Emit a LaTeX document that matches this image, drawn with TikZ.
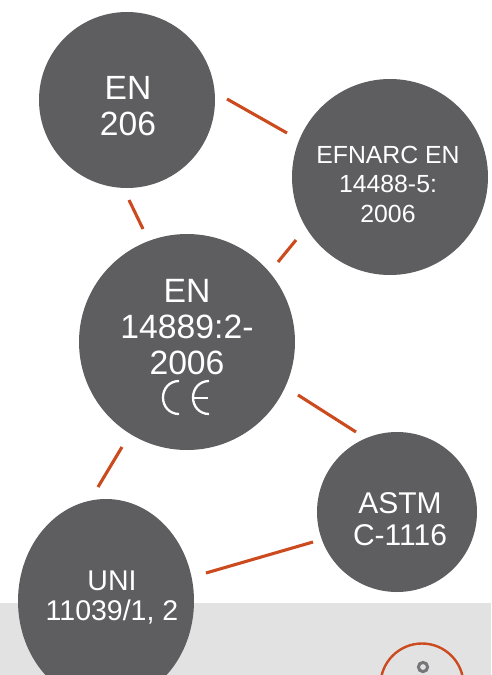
\documentclass[tikz,border=0pt]{standalone}
\usepackage{fontspec}
\usetikzlibrary{shapes.geometric}
\setmainfont{Liberation Sans}
\definecolor{disc}{HTML}{5E5D5F}
\definecolor{band}{HTML}{E2E2E2}
\definecolor{rust}{HTML}{CB4A1E}
\tikzset{
  disc/.style={circle,fill=disc,draw=none,inner sep=0pt,minimum size=#1},
  lab/.style={text=white,align=center,inner sep=0pt,anchor=base},
  link/.style={draw=rust,line width=3.1pt},
  cemark/.style={draw=white,line width=2.3pt},
}
\begin{document}
\begin{tikzpicture}[x=1pt,y=-1pt]
\useasboundingbox (0,0) rectangle (491,675);
\fill[band] (0,603) rectangle (491,675);
\begin{scope}
\clip (0,0) rectangle (491,675);
\node[circle,draw=rust,line width=2.4pt,minimum size=83pt,inner sep=0pt] (ring) at (422,685) {};
\draw[disc!85!white,line width=3pt] (423,667) circle (4.6pt);
\node[ellipse,fill=disc,draw=none,inner sep=0pt,minimum width=176pt,minimum height=204pt] (uni) at (106,601) {};
\node[disc=196pt] (ef) at (390,177) {};
\end{scope}
\node[disc=176pt] (en) at (127,100) {};
\node[disc=216pt] (main) at (187,342) {};
\node[disc=160pt] (astm) at (397,512) {};
\node[lab,font=\fontsize{33.6}{36}\selectfont] (t1) at (128,135) {EN\\206};
\node[lab,font=\fontsize{24.8}{29.5}\selectfont] (t2) at (388,222) {EFNARC EN\\14488-5:\\2006};
\node[lab,font=\fontsize{33.7}{36}\selectfont] (t3) at (187,374) {EN\\14889:2-\\2006};
\node[lab,font=\fontsize{30}{32}\selectfont] (t4) at (400,545) {ASTM\\C-1116};
\node[lab,font=\fontsize{28.5}{30}\selectfont] (t5) at (112,620) {UNI\\11039/1, 2};
% CE mark
\draw[cemark] (179,381) .. controls (169.6,381) and (163,388.4) .. (163,397.5) .. controls (163,406.6) and (169.6,414) .. (179,414);
\draw[cemark] (209,381) .. controls (199.6,381) and (193,388.4) .. (193,397.5) .. controls (193,406.6) and (199.6,414) .. (209,414);
\draw[cemark,line width=2pt] (193,397.5) -- (208,397.5);
% connectors
\coordinate (a1) at (227,99); \coordinate (a2) at (287,133);
\coordinate (b1) at (129,200); \coordinate (b2) at (143,229);
\coordinate (c1) at (296,240); \coordinate (c2) at (278,262);
\coordinate (d1) at (298,395); \coordinate (d2) at (356,432);
\coordinate (e1) at (122,447); \coordinate (e2) at (98,487);
\coordinate (f1) at (206,573); \coordinate (f2) at (313,542);
\draw[link] (a1) -- (a2);
\draw[link] (b1) -- (b2);
\draw[link] (c1) -- (c2);
\draw[link] (d1) -- (d2);
\draw[link] (e1) -- (e2);
\draw[link] (f1) -- (f2);
\end{tikzpicture}
\end{document}
